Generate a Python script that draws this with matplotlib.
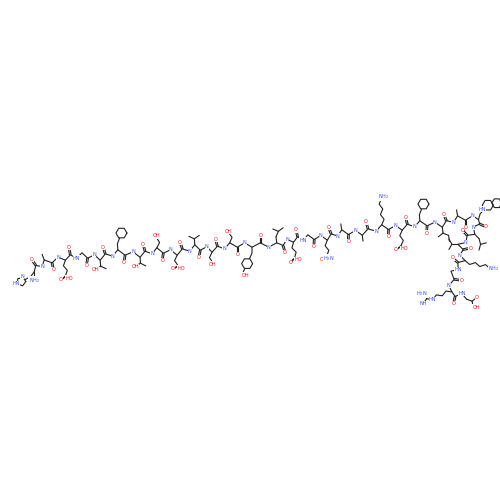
import numpy as np
import matplotlib
matplotlib.use("Agg")
import matplotlib.pyplot as plt

residues = ["His","Ala","Glu","Gly","Thr","Phe","Thr","Ser","Asp","Val","Ser","Ser","Tyr","Leu",
            "Glu","Gly","Gln","Ala","Ala","Lys","Glu","Phe","Ile","Ala","Trp","Leu","Val","Lys",
            "Gly","Arg","Gly"]
ca_x = [33,45,65,82,100,118,140,157,177,195,212,230,252,277,293,308,327,342,362,382,402,420,442,
        458,480,473,460,463,453,450,467]
ca_y = [270,262,258,255,258,252,255,250,253,247,250,245,245,245,240,237,238,232,233,227,228,223,225,
        218,218,233,245,260,272,293,297]
# side-chain direction overrides (residue index -> direction)
override = {0:(-0.6,0.8), 24:(0.3,-1.0), 25:(0.7,0.7), 26:(-1.0,0.0), 27:(1.0,0.2), 29:(-1.0,0.4)}

BL = 6.0
fig = plt.figure(figsize=(5,5), dpi=100)
ax = fig.add_axes([0,0,1,1]); ax.set_xlim(0,500); ax.set_ylim(500,0); ax.axis("off")
LW = 0.8; K = "#222222"; BLUE = "#3050F8"; RED = "#FF0D0D"

def lab(x,y,t,c):
    ax.text(x,y,t,fontsize=3.6,color=c,ha="center",va="center",zorder=5,
            bbox=dict(boxstyle="square,pad=0.05",fc="white",ec="none"))

def line(pts,**kw):
    pts=np.array(pts); ax.plot(pts[:,0],pts[:,1],color=K,lw=LW,solid_capstyle="round",zorder=2,**kw)

def unit(v): v=np.asarray(v,float); return v/np.hypot(*v)

def rot(v,deg):
    a=np.radians(deg); c,s=np.cos(a),np.sin(a); return np.array([c*v[0]-s*v[1],s*v[0]+c*v[1]])

def chain(start, d, n, zig=60):
    pts=[start]; p=np.array(start,float)
    for k in range(n):
        v = rot(d, zig/2 if k%2==0 else -zig/2)
        p = p + v*BL; pts.append(p.copy())
    return pts

def ring(c, r, n, phase=0):
    a=np.radians(phase)+np.arange(n+1)*2*np.pi/n
    pts=np.c_[c[0]+r*np.cos(a),c[1]+r*np.sin(a)]
    line(pts)
    return pts

P = np.c_[ca_x,ca_y].astype(float)
atoms=[]; kinds=[]
for i in range(len(P)):
    atoms.append(P[i]); kinds.append(("CA",i))
    if i < len(P)-1:
        d=P[i+1]-P[i]
        atoms.append(P[i]+d/3); kinds.append(("C",i))
        atoms.append(P[i]+2*d/3); kinds.append(("N",i+1))
atoms=np.array(atoms)
out=[]
for j in range(len(atoms)):
    if j==0: d=atoms[1]-atoms[0]
    elif j==len(atoms)-1: d=atoms[-1]-atoms[-2]
    else: d=atoms[j+1]-atoms[j-1]
    n=unit(np.array([d[1],-d[0]]))
    s = -1 if j%2==0 else 1
    out.append(n*s)
out=np.array(out)
Z = atoms + out*2.2
line(Z)
line([Z[0],Z[0]+np.array([0,7])]); lab(Z[0][0], Z[0][1]+9, "NH$_2$", BLUE)
e=Z[-1]; d=unit(Z[-1]-Z[-2]); c=e+rot(d,-30)*BL
line([e,c]); o1=c+rot(d,-90)*BL; o2=c+rot(d,30)*BL
line([c,o1]); line([c,o2]); lab(*o1,"O",RED); lab(*(o2+np.array([3,0])),"OH",RED)

for j,(k,i) in enumerate(kinds):
    x,y=Z[j]; o=out[j]
    if k=="C":
        op=Z[j]+o*BL
        pp=unit(np.array([o[1],-o[0]]))*0.8
        line([Z[j]+pp,op+pp]); line([Z[j]-pp,op-pp]); lab(*(op+o*1.2),"O",RED)
    elif k=="N":
        lab(x,y,"N" if residues[i]!="Gly" else "HN",BLUE)
    else:
        r=residues[i]; q=np.array([x,y])
        if i in override: o=unit(override[i])
        if r=="Gly": continue
        if r=="Ala": line([q,q+o*BL]); continue
        if r in ("Phe","Tyr","His","Trp"):
            b=q+o*BL; c2=b+rot(o,25)*BL
            line([q,b,c2])
            if r=="His":
                cen=c2+np.array([-4,2]); ring(cen,4.5,5,0)
                lab(cen[0]-5,cen[1]+2,"HN",BLUE); lab(cen[0]+1,cen[1]-5,"N",BLUE)
            else:
                cen=c2+rot(o,25)*5.5; ring(cen,5.5,6,0)
                if r=="Tyr":
                    t=cen+rot(o,25)*5.5; u=t+rot(o,25)*BL; line([t,u]); lab(u[0]+3,u[1]+1,"OH",RED)
                if r=="Trp":
                    ring(cen+np.array([9,-2]),5,6,0); lab(cen[0]-6,cen[1]+4,"HN",BLUE)
            continue
        if r=="Ser":
            pts=chain(q,o,2); line(pts); lab(*(pts[-1]+o*1.5),"OH",RED); continue
        if r=="Thr":
            b=q+o*BL; line([q,b]); a1=b+rot(o,60)*BL; a2=b+rot(o,-60)*BL
            line([b,a1]); line([b,a2]); lab(*a1,"OH",RED); continue
        if r in ("Val","Ile","Leu"):
            b=q+o*BL; line([q,b])
            if r=="Leu":
                b2=b+rot(o,30)*BL; line([b,b2]); b=b2
            a1=b+rot(o,60)*BL; a2=b+rot(o,-60)*BL; line([b,a1]); line([b,a2])
            if r=="Ile":
                a3=a2+o*BL; line([a2,a3])
            continue
        if r in ("Glu","Asp","Gln"):
            n = 3 if r!="Asp" else 2
            pts=chain(q,o,n); line(pts); e=pts[-1]
            o1=e+rot(o,60)*BL; o2=e+rot(o,-60)*BL
            line([e,o1]); line([e+np.array([0.8,0]),o1+np.array([0.8,0])]); line([e,o2])
            lab(*o1,"O",RED)
            if r=="Gln": lab(*(o2+np.array([-3,0])),"H$_2$N",BLUE)
            else: lab(*(o2+np.array([-2,0])),"HO",RED)
            continue
        if r=="Lys":
            pts=chain(q,o,5); line(pts); lab(*(pts[-1]+o*2+np.array([2,0])),"NH$_2$",BLUE); continue
        if r=="Arg":
            pts=chain(q,o,4); line(pts); e=pts[-1]; lab(*e,"HN",BLUE)
            c=e+rot(o,30)*BL; line([e,c]); a1=c+rot(o,90)*BL; a2=c+rot(o,-30)*BL
            line([c,a1]); line([c,a2]); lab(*(a1+np.array([-3,0])),"H$_2$N",BLUE); lab(*a2,"NH",BLUE)
            continue

fig.savefig("out.png", dpi=100, facecolor="white")
